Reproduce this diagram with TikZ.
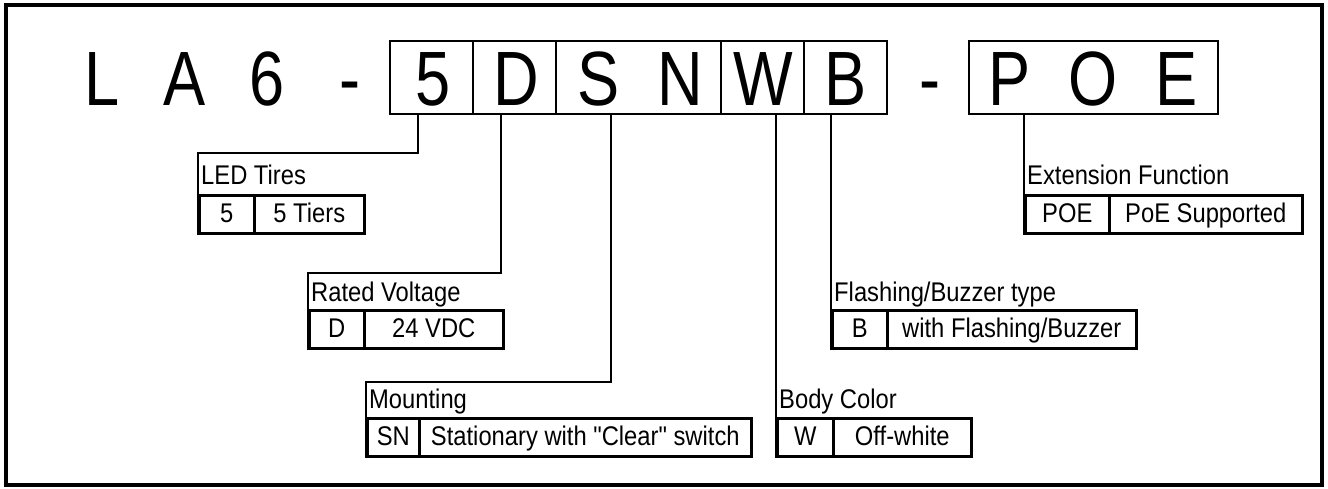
\documentclass[tikz,border=0pt]{standalone}
\usepackage{fontspec}
\setmainfont[FakeStretch=0.88, Ligatures=TeXOff]{Liberation Sans}
\newfontfamily\bigfont[FakeStretch=0.82]{Liberation Sans}
\begin{document}
\begin{tikzpicture}[x=1pt,y=-1pt,
  ln/.style={line width=2.6pt},
  codebox/.style={draw, line width=2.6pt, minimum height=73pt, inner sep=0pt, anchor=center},
  bigch/.style={font=\bigfont\fontsize{77}{77}\selectfont, inner sep=0pt, anchor=base},
  lbl/.style={font=\fontsize{27}{27}\selectfont, inner sep=0pt, anchor=base west},
  cell/.style={draw, line width=2.6pt, inner sep=0pt, minimum height=38pt, anchor=north west,
    font=\fontsize{27}{27}\selectfont, text height=20pt, text depth=3pt}]
\useasboundingbox (0,0) rectangle (1328,488);
\draw[line width=4.5pt] (6,5) rectangle (1322,485);

% code boxes
\node[codebox, minimum width=83pt]  (box5)   at (431.5,77.5) {};
\node[codebox, minimum width=83pt]  (boxD)   at (514.5,77.5) {};
\node[codebox, minimum width=165pt] (boxSN)  at (638.5,77.5) {};
\node[codebox, minimum width=83pt]  (boxW)   at (762.5,77.5) {};
\node[codebox, minimum width=83pt]  (boxB)   at (845.5,77.5) {};
\node[codebox, minimum width=249pt] (boxPOE) at (1093.5,77.5) {};

% big characters
\node[bigch] (chL)  at (102,105) {L};
\node[bigch] (chA)  at (185,105) {A};
\node[bigch] (ch6)  at (267,105) {6};
\node[bigch] (chd1) at (350,105) {-};
\node[bigch] (ch5)  at (433,105) {5};
\node[bigch] (chD)  at (516,105) {D};
\node[bigch] (chS)  at (599,105) {S};
\node[bigch] (chN)  at (680,105) {N};
\node[bigch] (chW)  at (763,105) {W};
\node[bigch] (chB)  at (846,105) {B};
\node[bigch] (chd2) at (930,105) {-};
\node[bigch] (chP)  at (1010,105) {P};
\node[bigch] (chO)  at (1093,105) {O};
\node[bigch] (chE)  at (1177,105) {E};

% tables
\node[cell, minimum width=55pt]  (ledA) at (198,194) {5};
\node[cell, minimum width=110pt] (ledB) at (253,194) {5 Tiers};
\node[lbl] (ledL) at (201,184) {LED Tires};

\node[cell, minimum width=55pt]  (rvA) at (308,309) {D};
\node[cell, minimum width=139pt] (rvB) at (363,309) {24 VDC};
\node[lbl] (rvL) at (311,301) {Rated Voltage};

\node[cell, minimum width=52pt]  (mtA) at (366,417) {SN};
\node[cell, minimum width=332pt] (mtB) at (418,417) {Stationary with "Clear" switch};
\node[lbl] (mtL) at (369,408) {Mounting};

\node[cell, minimum width=56pt]  (bcA) at (776,417) {W};
\node[cell, minimum width=138pt] (bcB) at (832,417) {Off-white};
\node[lbl] (bcL) at (779,408) {Body Color};

\node[cell, minimum width=55pt]  (fbA) at (831,309) {B};
\node[cell, minimum width=249pt] (fbB) at (886,309) {with Flashing/Buzzer};
\node[lbl] (fbL) at (834,301) {Flashing/Buzzer type};

\node[cell, minimum width=84pt]  (exA) at (1024,194) {POE};
\node[cell, minimum width=193pt] (exB) at (1108,194) {PoE Supported};
\node[lbl] (exL) at (1027,184) {Extension Function};

% connectors
\coordinate (c5) at (418,114);
\coordinate (k5) at (198,153);
\coordinate (cD) at (501,114);
\coordinate (kD) at (308,273);
\coordinate (cS) at (611,114);
\coordinate (kS) at (366,382);
\coordinate (cW) at (776,114);
\coordinate (cB) at (831,114);
\coordinate (cP) at (1024,114);
\draw[ln] (c5) |- (k5) -- (ledA.south west);
\draw[ln] (cD) |- (kD) -- (rvA.south west);
\draw[ln] (cS) |- (kS) -- (mtA.south west);
\draw[ln] (cW) -- (bcA.south west);
\draw[ln] (cB) -- (fbA.south west);
\draw[ln] (cP) -- (exA.south west);
\end{tikzpicture}
\end{document}
